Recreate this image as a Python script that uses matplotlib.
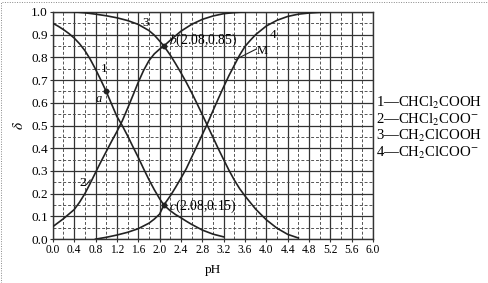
import matplotlib
matplotlib.use("Agg")
import matplotlib.pyplot as plt
from matplotlib.lines import Line2D

# values (pH, delta)
ph1 = [0.0, 0.1, 0.2, 0.3, 0.4, 0.5, 0.6, 0.7, 0.8, 0.9, 1.0, 1.1, 1.2, 1.3, 1.4, 1.5,
       1.6, 1.7, 1.8, 1.9, 2.0, 2.08, 2.2, 2.3, 2.4, 2.5, 2.6, 2.8, 3.0, 3.2]
d1 = [0.95, 0.937, 0.922, 0.905, 0.885, 0.86, 0.83, 0.792, 0.748, 0.70, 0.65, 0.595,
      0.54, 0.5, 0.455, 0.407, 0.36, 0.31, 0.262, 0.218, 0.178, 0.15, 0.125, 0.108,
      0.094, 0.079, 0.065, 0.04, 0.022, 0.01]

ph2 = [0.0, 0.2, 0.4, 0.5, 0.6, 0.7, 0.8, 0.9, 1.0, 1.1, 1.2, 1.3, 1.4, 1.5, 1.6, 1.7,
       1.8, 1.9, 2.0, 2.08, 2.2, 2.4, 2.6, 2.8, 3.0, 3.2, 3.4, 3.6]
d2 = [0.055, 0.09, 0.13, 0.162, 0.2, 0.245, 0.293, 0.34, 0.385, 0.43, 0.473, 0.52,
      0.575, 0.632, 0.69, 0.742, 0.785, 0.815, 0.836, 0.85, 0.875, 0.915, 0.945,
      0.967, 0.982, 0.992, 0.997, 1.0]

ph3 = [0.4, 0.6, 0.8, 1.0, 1.2, 1.4, 1.6, 1.8, 1.9, 2.0, 2.08, 2.2, 2.3, 2.4, 2.5, 2.6,
       2.7, 2.8, 2.9, 3.0, 3.1, 3.2, 3.3, 3.4, 3.5, 3.6, 3.8, 4.0, 4.2, 4.4, 4.6]
d3 = [1.0, 0.996, 0.99, 0.983, 0.974, 0.962, 0.945, 0.918, 0.898, 0.872, 0.85, 0.81,
      0.772, 0.732, 0.69, 0.645, 0.597, 0.548, 0.498, 0.448, 0.398, 0.35, 0.303, 0.26,
      0.222, 0.19, 0.132, 0.085, 0.048, 0.021, 0.005]

ph4 = [0.8, 1.0, 1.2, 1.4, 1.6, 1.8, 1.9, 2.0, 2.08, 2.2, 2.3, 2.4, 2.5, 2.6, 2.7, 2.8,
       2.9, 3.0, 3.1, 3.2, 3.3, 3.4, 3.5, 3.6, 3.7, 3.8, 4.0, 4.2, 4.4, 4.6, 4.8, 5.0, 5.2]
d4 = [0.0, 0.008, 0.018, 0.03, 0.046, 0.07, 0.088, 0.11, 0.15, 0.19, 0.228, 0.268,
      0.31, 0.36, 0.41, 0.46, 0.51, 0.565, 0.618, 0.67, 0.72, 0.765, 0.81, 0.848, 0.875,
      0.9, 0.938, 0.963, 0.98, 0.99, 0.995, 0.998, 1.0]

legend_lines = ["1—CHCl$_2$COOH", "2—CHCl$_2$COO$^{-}$", "3—CH$_2$ClCOOH", "4—CH$_2$ClCOO$^{-}$"]

plt.rcParams["font.family"] = ["Liberation Serif", "DejaVu Serif"]
plt.rcParams["mathtext.fontset"] = "stix"

fig = plt.figure(figsize=(4.89, 2.83), dpi=100)
ax = fig.add_axes([0.108, 0.155, 0.655, 0.803])

# grid: solid majors, dashed minors
for i in range(16):
    x = i * 0.4
    ax.axvline(x, color="#333333", lw=0.9, zorder=1)
    if x + 0.2 < 6.05:
        ax.axvline(x + 0.2, color="#555555", lw=0.7, ls=(0, (3, 2)), zorder=1)
for i in range(11):
    y = i * 0.1
    ax.axhline(y, color="#333333", lw=0.9, zorder=1)
    if i < 10:
        ax.axhline(y + 0.05, color="#555555", lw=0.7, ls=(0, (3, 2)), zorder=1)

c = "#222222"
for xs, ys in [(ph1, d1), (ph2, d2), (ph3, d3), (ph4, d4)]:
    ax.plot(xs, ys, color=c, lw=1.2, zorder=3, solid_joinstyle="round")

ax.set_xlim(0, 6.0)
ax.set_ylim(0, 1.0)
ax.set_xticks([i * 0.4 for i in range(16)])
ax.set_xticklabels([f"{i * 0.4:.1f}" for i in range(16)], fontsize=8.3)
ax.set_yticks([i * 0.1 for i in range(11)])
ax.set_yticklabels([f"{i * 0.1:.1f}" for i in range(11)], fontsize=9.5)
ax.tick_params(length=2, pad=1.5, color="#333333")
for s in ax.spines.values():
    s.set_color("#333333")
    s.set_linewidth(1.0)
ax.set_xlabel("pH", fontsize=9.5, labelpad=6)
ax.set_ylabel(r"$\delta$", fontsize=11, labelpad=4)

# annotations
ax.plot([1.0], [0.65], "o", color=c, ms=3.2, zorder=4)
ax.text(0.86, 0.615, "a", fontsize=9, style="italic", ha="center", va="center", zorder=5)
ax.text(0.97, 0.75, "1", fontsize=9.5, ha="center", va="center", zorder=5)
ax.text(0.57, 0.245, "2", fontsize=9.5, ha="center", va="center", zorder=5)
ax.plot([0.63, 0.7], [0.24, 0.26], color=c, lw=0.8, zorder=4)
ax.text(1.74, 0.95, "3", fontsize=9.5, ha="center", va="center", zorder=5)
ax.text(4.12, 0.9, "4", fontsize=9.5, ha="center", va="center", zorder=5)

ax.plot([2.08], [0.85], "o", color=c, ms=3.2, zorder=4)
ax.text(2.17, 0.875, "$b$(2.08,0.85)", fontsize=9.8, ha="left", va="center", zorder=5)
ax.plot([2.08], [0.15], "o", color=c, ms=3.2, zorder=4)
ax.text(2.17, 0.145, "$c$(2.08,0.15)", fontsize=9.8, ha="left", va="center", zorder=5)

ax.plot([3.42, 3.8], [0.79, 0.835], color=c, lw=0.8, zorder=4)
ax.text(3.82, 0.83, "M", fontsize=9, ha="left", va="center", zorder=5)

# legend text on the right
for k, s in enumerate(legend_lines):
    fig.text(0.768, 0.636 - k * 0.059, s, fontsize=10.6, ha="left", va="center")

# dotted frame of the scan (top and left)
fig.add_artist(Line2D([0.004, 0.996], [0.993, 0.993], transform=fig.transFigure,
                      ls=(0, (1, 1.5)), lw=0.7, color="#888888"))
fig.add_artist(Line2D([0.003, 0.003], [0.0, 0.993], transform=fig.transFigure,
                      ls=(0, (1, 1.5)), lw=0.7, color="#888888"))

fig.savefig("out.png", dpi=100)
